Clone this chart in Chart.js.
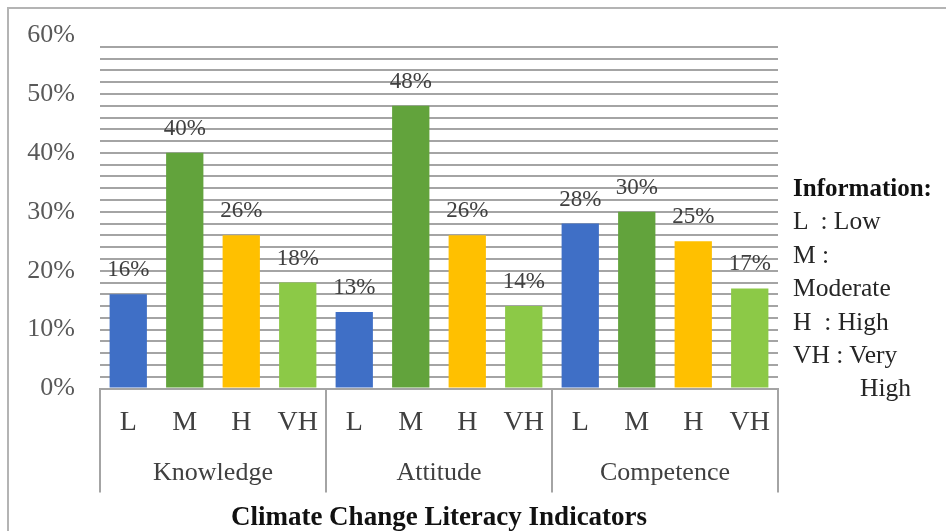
<!DOCTYPE html>
<html>
<head>
<meta charset="utf-8">
<script src="https://cdn.jsdelivr.net/npm/chart.js@4/dist/chart.umd.min.js"></script>
<style>
  html, body { margin: 0; padding: 0; background: #fff; }
  #wrap { position: relative; width: 946px; height: 531px; overflow: hidden; }
  #frame { position: absolute; left: 7px; top: 7px; width: 1000px; height: 1000px;
           border-left: 2px solid #b4b4b4; border-top: 2px solid #b4b4b4; }
  #myChart { position: absolute; left: 0; top: 0; }
  #info { position: absolute; left: 793px; top: 171px; font-family: "Liberation Serif", serif;
          font-size: 25.5px; line-height: 33.4px; color: #262626; }
  #info div { white-space: pre; height: 33.4px; }
  #info .head { font-weight: bold; color: #111; font-size: 25px; }
  #info .indent { padding-left: 67px; }
</style>
</head>
<body>
<div id="wrap">
  <div id="frame"></div>
  <canvas id="myChart" width="946" height="531"></canvas>
  <div id="info"><div class="head">Information:</div><div>L  : Low</div><div>M :</div><div>Moderate</div><div>H  : High</div><div>VH : Very</div><div class="indent">High</div></div>
</div>
<script>
// levels per indicator, repeated for each group
const categories = ['L', 'M', 'H', 'VH', 'L', 'M', 'H', 'VH', 'L', 'M', 'H', 'VH'];
const groups = ['Knowledge', 'Attitude', 'Competence'];
const values = [16, 40, 26, 18, 13, 48, 26, 14, 28, 30, 25, 17];
const levelColors = ['#3f6fc6', '#62a33c', '#ffc000', '#8cc947'];
const yMax = 60;
const yLabelStep = 10;
const yGridStep = 2;

const FONT = '"Liberation Serif", serif';
const LINE = '#a4a4a4';

// percent labels above each bar
const barLabels = {
  id: 'barLabels',
  afterDatasetsDraw(chart) {
    const ctx = chart.ctx;
    const meta = chart.getDatasetMeta(0);
    ctx.save();
    ctx.font = '23px ' + FONT;
    ctx.fillStyle = '#404040';
    ctx.textAlign = 'center';
    ctx.textBaseline = 'alphabetic';
    meta.data.forEach((bar, i) => {
      ctx.fillText(values[i] + '%', bar.x, bar.y - 18);
    });
    ctx.restore();
  }
};

// vertical dividers between the indicator groups, under the axis
const groupDividers = {
  id: 'groupDividers',
  afterDraw(chart) {
    const xs = chart.scales.x;
    const x2 = chart.scales.x2;
    const per = categories.length / groups.length;
    const ctx = chart.ctx;
    ctx.save();
    ctx.strokeStyle = LINE;
    ctx.lineWidth = 2;
    for (let g = 0; g <= groups.length; g++) {
      let px;
      if (g === 0) px = xs.left;
      else if (g === groups.length) px = xs.right;
      else px = (xs.getPixelForValue(g * per - 1) + xs.getPixelForValue(g * per)) / 2;
      ctx.beginPath();
      ctx.moveTo(px, chart.chartArea.bottom);
      ctx.lineTo(px, x2.bottom);
      ctx.stroke();
    }
    ctx.restore();
  }
};

const ctx = document.getElementById('myChart').getContext('2d');
const myChart = new Chart(ctx, {
  type: 'bar',
  data: {
    labels: categories,
    datasets: [{
      data: values,
      backgroundColor: values.map((v, i) => levelColors[i % levelColors.length]),
      barPercentage: 0.66,
      categoryPercentage: 1
    }]
  },
  options: {
    responsive: false,
    animation: false,
    layout: { padding: { left: 0, right: 168, top: 35, bottom: 0 } },
    plugins: {
      legend: { display: false },
      tooltip: { enabled: false },
      title: {
        display: true,
        position: 'bottom',
        fullSize: false,
        text: 'Climate Change Literacy Indicators',
        color: '#111',
        font: { family: FONT, size: 27, weight: 'bold' },
        padding: { top: 9, bottom: -3 }
      }
    },
    scales: {
      x: {
        type: 'category',
        offset: true,
        afterFit(scale) { scale.height = 50; },
        grid: { drawOnChartArea: false, drawTicks: false },
        border: { display: true, color: LINE, width: 2 },
        ticks: { color: '#404040', font: { family: FONT, size: 28 }, padding: 17, maxRotation: 0 }
      },
      x2: {
        type: 'category',
        labels: groups,
        position: 'bottom',
        offset: true,
        afterFit(scale) { scale.height = 54; },
        grid: { display: false, drawTicks: false },
        border: { display: false },
        ticks: { color: '#404040', font: { family: FONT, size: 26 }, padding: 19, maxRotation: 0 }
      },
      y: {
        min: 0,
        max: yMax,
        afterFit(scale) {
          scale.width = 100;
          // top/bottom room is handled by the layout padding
          scale.paddingTop = 0;
          scale.paddingBottom = 0;
        },
        grid: {
          drawTicks: false,
          lineWidth: 2,
          color: (c) => (c.tick && c.tick.value === yMax ? 'rgba(0,0,0,0)' : LINE)
        },
        border: { display: false },
        ticks: {
          stepSize: yGridStep,
          autoSkip: false,
          padding: 25,
          color: '#595959',
          font: { family: FONT, size: 26 },
          callback: (v) => (v % yLabelStep === 0 ? v + '%' : '')
        }
      }
    }
  },
  plugins: [barLabels, groupDividers]
});
</script>
</body>
</html>
